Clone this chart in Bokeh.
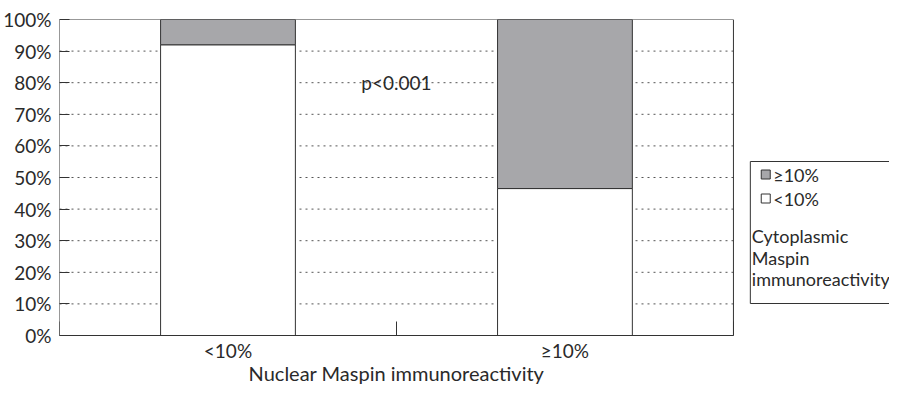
from bokeh.plotting import figure
from bokeh.models import Range1d, FixedTicker, Label, PrintfTickFormatter
from bokeh.embed import file_html
from bokeh.resources import INLINE
from bokeh.core.properties import value

# ---- data ----
categories = ["<10%", "≥10%"]
cyto_below = [92.0, 46.5]   # Cytoplasmic <10% (white)
cyto_above = [8.0, 53.5]    # Cytoplasmic >=10% (gray)
y_ticks = [0, 10, 20, 30, 40, 50, 60, 70, 80, 90, 100]
series_names = ["≥10%", "<10%"]
legend_title = ["Cytoplasmic", "Maspin", "immunoreactivity"]
x_title = "Nuclear Maspin immunoreactivity"
p_text = "p<0.001"

FONT = "Lato"
TXT = "#2a2a2a"
GRAY = "#a7a7aa"
LINE = "#333333"

n = len(categories)
xs = [i + 0.5 for i in range(n)]

W, H = 889, 384
LEFT, TOP = 54, 19
CAT_PX = 339.0          # pixels per category
PCT_PX = 3.16           # pixels per percent
AXIS_Y = TOP + 100 * PCT_PX                     # canvas row of the 0% line
x_end = (W - LEFT) / CAT_PX
y_start = -(H - AXIS_Y) / PCT_PX                # frame extends below 0% for the labels


def row_to_pct(y_px):
    """canvas pixel row -> percent units (for placing legend/title texts)"""
    return (AXIS_Y - y_px) / PCT_PX


def col_to_cat(x_px):
    """canvas pixel column -> category units"""
    return (x_px - LEFT) / CAT_PX


p = figure(width=W, height=H, output_backend="svg", toolbar_location=None,
           x_range=Range1d(0, x_end), y_range=Range1d(y_start, 100),
           min_border_left=LEFT, min_border_right=0, min_border_top=TOP,
           min_border_bottom=0)
p.outline_line_color = None
p.background_fill_color = "white"
p.border_fill_color = "white"

# gridlines (only across the category area)
grid_y = y_ticks[1:-1]
p.segment(x0=[0] * len(grid_y), x1=[n] * len(grid_y), y0=grid_y, y1=grid_y,
          line_color="#555555", line_dash="2 4", line_width=1)

src = dict(x=xs, below=cyto_below, above=cyto_above)
p.vbar_stack(["below", "above"], x="x", width=0.4, source=src,
             fill_color=["white", GRAY], line_color=LINE, line_width=1)

# plot-area border: top, right, x axis line, y axis line
p.segment(x0=[0, n, 0, 0], x1=[n, n, n, 0], y0=[100, 0, 0, 0], y1=[100, 100, 0, 100],
          line_color=LINE, line_width=1)

# y axis
p.yaxis.ticker = FixedTicker(ticks=y_ticks)
p.yaxis.formatter = PrintfTickFormatter(format="%d%%")
p.yaxis.major_tick_in = 10
p.yaxis.major_tick_out = 0
p.yaxis.minor_tick_line_color = None
p.yaxis.major_label_text_font = FONT
p.yaxis.major_label_text_font_size = "19px"
p.yaxis.major_label_text_color = TXT
p.yaxis.major_label_standoff = 8
p.yaxis.axis_line_color = None
p.yaxis.major_tick_line_color = LINE

# x axis, drawn at 0%
p.xaxis.fixed_location = 0
p.xaxis.ticker = FixedTicker(ticks=xs, minor_ticks=list(range(n + 1)))
p.xaxis.major_label_overrides = {x: c for x, c in zip(xs, categories)}
p.xaxis.major_tick_line_color = None
p.xaxis.major_tick_in = 0
p.xaxis.major_tick_out = 0
p.xaxis.minor_tick_in = 14
p.xaxis.minor_tick_out = 0
p.xaxis.minor_tick_line_color = LINE
p.xaxis.axis_line_color = None
p.xaxis.major_label_text_font = FONT
p.xaxis.major_label_text_font_size = "19px"
p.xaxis.major_label_text_color = TXT
p.xaxis.major_label_standoff = 3

p.xgrid.grid_line_color = None
p.ygrid.grid_line_color = None

p.add_layout(Label(x=n / 2, y=80, text=p_text, text_align="center", text_baseline="middle",
                   text_font=FONT, text_font_size="19px", text_color=TXT))
# x axis title, centred under the category area
p.add_layout(Label(x=n / 2, y=row_to_pct(372), text=x_title, text_align="center",
                   text_baseline="middle", text_font=FONT, text_font_size="20px",
                   text_color=TXT))

# ---- legend (inside the extended frame, right of the plot area) ----
p.quad(left=col_to_cat(749), right=x_end + 0.1, top=row_to_pct(161), bottom=row_to_pct(303),
       fill_color="white", line_color=LINE, line_width=1)
swatch_y = [row_to_pct(174), row_to_pct(198)]
p.scatter(x=[col_to_cat(764.5)] * 2, y=swatch_y, marker="square", size=9,
          fill_color=[GRAY, "white"], line_color=LINE, line_width=1)
p.text(x=[col_to_cat(772)] * 2, y=swatch_y, text=series_names, text_font=value(FONT),
       text_font_size="18px", text_baseline="middle", text_color=TXT)
p.text(x=[col_to_cat(750.5)] * 3, y=[row_to_pct(235), row_to_pct(257), row_to_pct(278)],
       text=legend_title, text_font=value(FONT),
       text_font_size="18px", text_baseline="middle", text_color=TXT)

open("out.html", "w").write(file_html(p, INLINE))
